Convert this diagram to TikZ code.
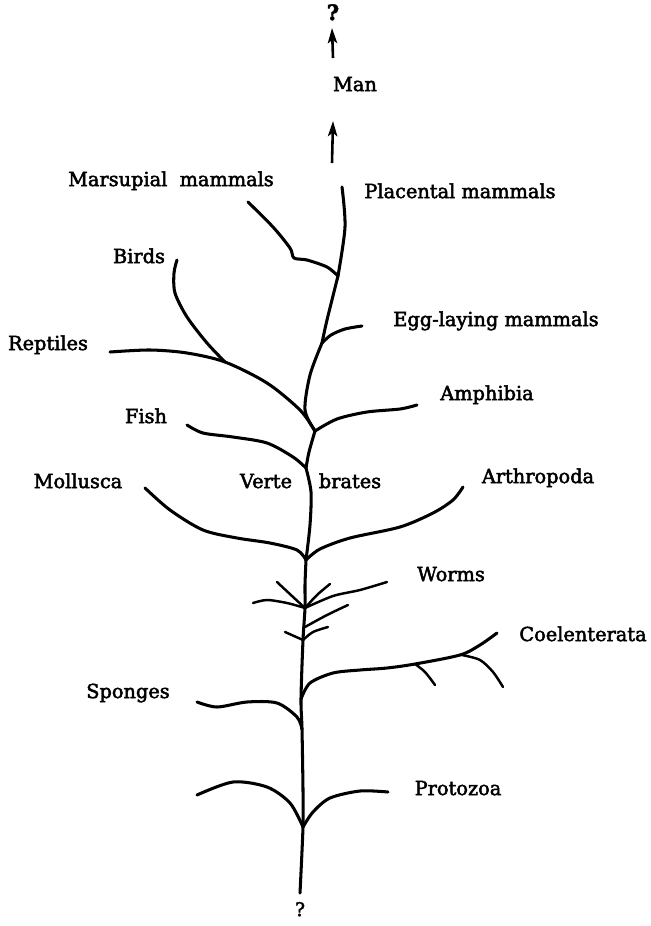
\documentclass[tikz,border=0pt]{standalone}
\usepackage{fontspec}
\setmainfont{DejaVu Serif}[FakeBold=2.5]
\usetikzlibrary{arrows.meta}

\begin{document}
\begin{tikzpicture}[x=0.03cm,y=-0.03cm,
    branch/.style={line width=2.6pt, line cap=round, line join=round},
    twig/.style={line width=2.1pt, line cap=round, line join=round},
    taxon/.style={inner sep=0pt, anchor=mid, font=\fontsize{16.5}{18}\selectfont},
    upward/.style={line width=2.2pt, -{Stealth[length=13pt,width=8pt,inset=3pt]}}]
  \useasboundingbox (0,0) rectangle (651,926);
  % Labels
  \node[taxon, font=\fontsize{18}{18}\selectfont\bfseries] (qtop) at (333,17) {?};
  \node[taxon] (man) at (355,88) {Man};
  \node[taxon] (marsupial) at (171,183) {Marsupial\ \ mammals};
  \node[taxon] (placental) at (460,195) {Placental mammals};
  \node[taxon] (birds) at (139,260) {Birds};
  \node[taxon] (egg) at (496,323) {Egg-laying mammals};
  \node[taxon] (reptiles) at (48,347) {Reptiles};
  \node[taxon] (amphibia) at (487,397) {Amphibia};
  \node[taxon] (fish) at (146,420) {Fish};
  \node[taxon] (mollusca) at (78,485) {Mollusca};
  \node[taxon] (verte) at (266,485) {Verte};
  \node[taxon] (brates) at (350,485) {brates};
  \node[taxon] (arthropoda) at (538,480) {Arthropoda};
  \node[taxon] (worms) at (451,578) {Worms};
  \node[taxon] (coelenterata) at (583,638) {Coelenterata};
  \node[taxon] (sponges) at (128,695) {Sponges};
  \node[taxon] (protozoa) at (458,792) {Protozoa};
  \node[taxon, font=\fontsize{16}{18}\selectfont] (qbot) at (300,913) {?};
  % Arrows towards Man and beyond
  \coordinate (arrA) at (333,58);
  \coordinate (arrAtip) at (332,28);
  \coordinate (arrB) at (332,163);
  \coordinate (arrBtip) at (333,121);
  \draw[upward] (arrA) -- (arrAtip);
  \draw[upward] (arrB) -- (arrBtip);
  % Junctions on the trunk
  \coordinate (jMars) at (338,276);
  \coordinate (jEgg) at (322,343);
  \coordinate (jBird) at (225,362);
  \coordinate (jRep) at (315,431);
  \coordinate (jFish) at (306,468);
  \coordinate (jMoll) at (306,560);
  \coordinate (jWorm) at (305,608);
  \coordinate (jWormB) at (305,627);
  \coordinate (jWormC) at (303,640);
  \coordinate (jCoel) at (301,699);
  \coordinate (jSpon) at (302,729);
  \coordinate (jProt) at (303,827);
  \coordinate (root) at (300,893);
  % Trunk
  \draw[branch] plot[smooth] coordinates {(342,187) (345,227) (jMars)};
  \draw[branch] plot[smooth] coordinates {(jMars) (327,320) (jEgg)};
  \draw[branch] plot[smooth] coordinates {(jEgg) (310,375) (305,410) (jRep)};
  \draw[branch] plot[smooth] coordinates {(jRep) (309,452) (jFish)};
  \draw[branch] plot[smooth] coordinates {(jFish) (311,492) (310,525) (jMoll)};
  \draw[branch] plot[smooth] coordinates {(jMoll) (305,585) (jWorm) (jWormC) (jCoel) (jSpon) (303,790) (jProt) (root)};
  % Mammals
  \draw[branch] plot[smooth] coordinates {(248,202) (273,227) (290,248) (294,258) (307,260) (327,267) (jMars)};
  \draw[branch] plot[smooth] coordinates {(362,326) (345,329) (331,335) (jEgg)};
  % Birds and reptiles
  \draw[branch] plot[smooth] coordinates {(177,260) (174,273) (175,293) (187,317) (207,343) (jBird)};
  \draw[branch] plot[smooth] coordinates {(110,352) (150,350) (187,353) (jBird) (267,383) (300,410) (jRep)};
  \draw[branch] plot[smooth] coordinates {(417,405) (400,409) (367,412) (337,419) (jRep)};
  % Fish
  \draw[branch] plot[smooth] coordinates {(187,425) (203,433) (233,437) (267,443) (293,457) (jFish)};
  % Mollusca and Arthropoda
  \draw[branch] plot[smooth] coordinates {(145,488) (170,510) (203,530) (237,538) (270,543) (297,550) (jMoll)};
  \draw[branch] plot[smooth] coordinates {(463,487) (453,500) (433,513) (400,527) (350,538) (320,549) (jMoll)};
  % Worms
  \draw[twig] plot[smooth] coordinates {(387,582) (360,590) (333,596) (jWorm)};
  \draw[twig] plot[smooth] coordinates {(330,584) (317,595) (jWorm)};
  \draw[twig] plot[smooth] coordinates {(277,582) (292,596) (jWorm)};
  \draw[twig] plot[smooth] coordinates {(253,603) (267,600) (287,603) (jWorm)};
  \draw[twig] plot[smooth] coordinates {(348,605) (327,615) (jWormB)};
  \draw[twig] plot[smooth] coordinates {(328,627) (313,632) (jWormC)};
  \draw[twig] plot[smooth] coordinates {(285,632) (jWormC)};
  % Coelenterata
  \draw[branch] plot[smooth] coordinates {(jCoel) (310,683) (333,673) (360,670) (387,668) (415,664) (460,655) (480,645) (497,633)};
  \draw[twig] plot[smooth] coordinates {(415,664) (425,672) (435,685)};
  \draw[twig] plot[smooth] coordinates {(462,655) (480,660) (493,672) (503,687)};
  % Sponges
  \draw[branch] plot[smooth] coordinates {(197,702) (217,707) (247,702) (277,703) (297,717) (jSpon)};
  % Protozoa
  \draw[branch] plot[smooth] coordinates {(197,795) (233,782) (267,787) (290,803) (jProt)};
  \draw[branch] plot[smooth] coordinates {(388,792) (360,791) (330,798) (313,812) (jProt)};
\end{tikzpicture}
\end{document}
